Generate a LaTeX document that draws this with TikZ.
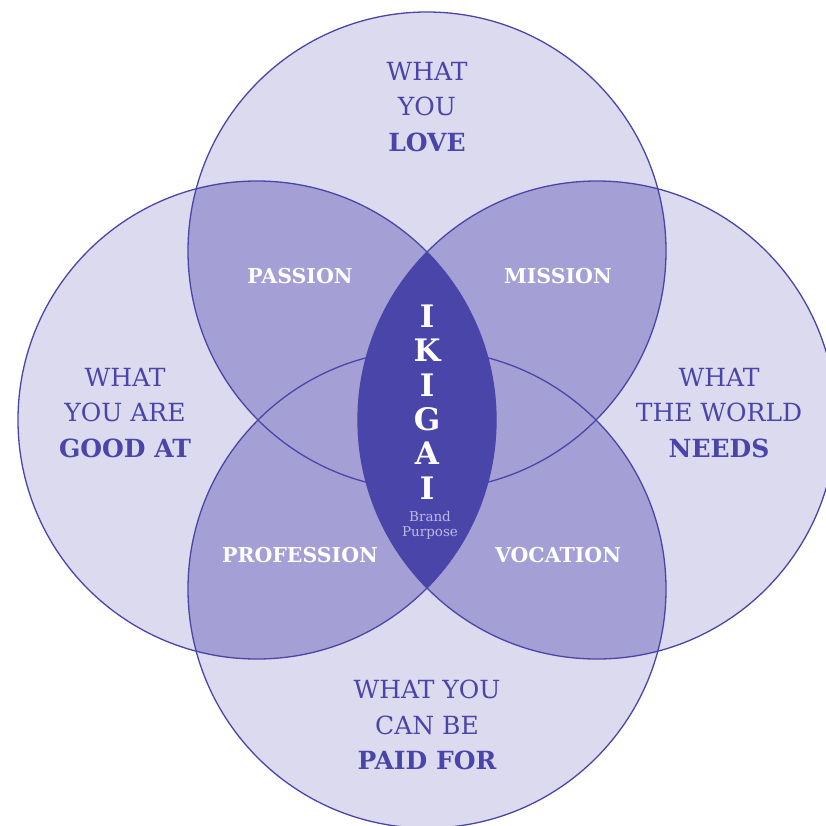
\documentclass[tikz,border=0pt]{standalone}
\usepackage{fontspec}
\setmainfont{DejaVu Serif}
\usetikzlibrary{positioning}

\definecolor{ikiline}{HTML}{4A45A8}
\definecolor{ikilight}{HTML}{DCDAEE}
\definecolor{ikimid}{HTML}{A4A0D6}
\definecolor{ikidark}{HTML}{4A45A9}
\definecolor{ikisoft}{HTML}{BDB9E6}

\begin{document}
\begin{tikzpicture}[x=1pt,y=-1pt,
  outer/.style={align=center,text=ikiline,font=\fontsize{25}{35.5}\selectfont},
  pair/.style={text=white,font=\fontsize{20.5}{24}\selectfont\bfseries},
  letter/.style={text=white,font=\fontsize{31}{34}\selectfont\bfseries}]

\useasboundingbox (0,0) rectangle (826,825);

% ============================
% CIRCLE CENTRES
% ============================

\def\rad{239pt}
\coordinate (T) at (427,251);
\coordinate (L) at (257,420);
\coordinate (R) at (597,420);
\coordinate (B) at (427,589);

% ============================
% FILLS
% ============================

\foreach \c in {T,L,R,B}
  \fill[ikilight] (\c) circle[radius=\rad];

% overlaps of two circles
\foreach \a/\b in {T/L,T/R,B/L,B/R,T/B,L/R} {
  \begin{scope}
    \clip (\a) circle[radius=\rad];
    \fill[ikimid] (\b) circle[radius=\rad];
  \end{scope}
}

% outlines
\foreach \c in {T,L,R,B}
  \draw[ikiline,line width=1.3pt] (\c) circle[radius=\rad];

% centre lens
\begin{scope}
  \clip (L) circle[radius=\rad];
  \fill[ikidark] (R) circle[radius=\rad];
\end{scope}

% ============================
% LABELS
% ============================

\node[outer] (love) at (427,107) {WHAT\\YOU\\\textbf{LOVE}};
\node[outer] (good) at (125,413) {WHAT\\YOU ARE\\\textbf{GOOD AT}};
\node[outer] (needs) at (719,413) {WHAT\\THE WORLD\\\textbf{NEEDS}};
\node[outer] (paid) at (427,725) {WHAT YOU\\CAN BE\\\textbf{PAID FOR}};

\node[pair] (passion) at (300,276) {PASSION};
\node[pair] (mission) at (558,276) {MISSION};
\node[pair] (profession) at (300,555) {PROFESSION};
\node[pair] (vocation) at (558,555) {VOCATION};

\foreach \ch [count=\i] in {I,K,I,G,A,I}
  \node[letter] (ik\i) at (427,{316+34.4*(\i-1)}) {\ch};

\node[text=ikisoft,align=center,font=\fontsize{13.5}{15}\selectfont]
  (brand) at (430,525) {Brand\\Purpose};

\end{tikzpicture}
\end{document}
